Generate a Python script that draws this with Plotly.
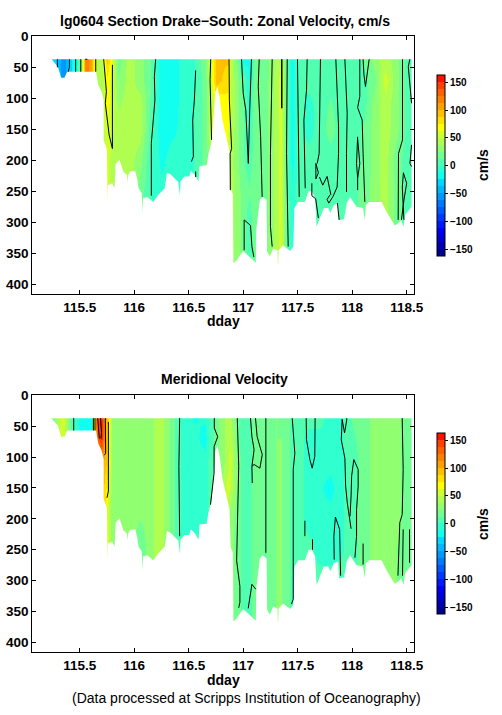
import plotly.graph_objects as go

# Station times (dday) and depth bins (m)
dday = [115.24,115.30,115.35,115.40,115.45,115.50,115.55,115.60,115.65,115.70,115.75,115.80,
        115.85,115.95,116.05,116.15,116.20,116.25,116.35,116.45,116.55,116.65,116.70,116.75,
        116.85,116.88,116.95,117.00,117.05,117.10,117.20,117.30,117.35,117.40,117.45,117.50,
        117.60,117.70,117.80,117.90,118.00,118.10,118.20,118.30,118.40,118.50,118.55]
depth = [37,70,110,150,200,250,300,345]

# Zonal velocity (cm/s), one list per depth bin
u_37  = [-22,-40,-62,-30,-18,10,115,110,40,44,92,60,18,44,30,14,-6,-20,-20,-8,-2,25,50,92,90,50,18,-18,-16,18,18,40,50,8,-20,6,6,6,6,6,6,14,30,44,30,6,6]
u_70  = [-22,-40,-62,-30,-18,10,115,110,40,38,70,56,25,44,30,14,-6,-20,-20,-8,-2,18,50,94,80,50,25,6,-12,18,18,44,56,6,-20,6,6,6,8,6,6,6,20,56,30,6,6]
u_110 = [-22,-40,-62,-30,-18,10,115,110,40,40,68,54,36,44,44,12,-6,-20,-18,-8,0,18,50,60,70,50,25,14,-6,18,18,44,56,8,-20,6,-6,6,14,6,6,6,30,44,30,6,6]
u_150 = [-22,-40,-62,-30,-18,10,115,110,40,40,60,52,44,44,44,8,-8,-20,-16,-8,0,18,50,60,70,50,25,14,-4,18,18,44,56,8,-20,6,-6,6,18,6,6,14,30,44,30,6,6]
u_200 = [-22,-40,-62,-30,-18,10,115,110,40,40,56,44,44,44,30,2,-6,-16,-6,-6,0,18,30,40,50,44,25,14,6,18,18,44,56,6,-18,6,6,6,6,6,6,14,30,44,18,6,6]
u_250 = [-22,-40,-62,-30,-18,10,115,110,40,40,56,44,44,44,18,2,-6,-8,-6,-6,0,18,30,40,50,44,30,18,14,18,18,44,56,6,-10,6,6,6,6,6,6,18,30,44,18,6,6]
u_300 = [-22,-40,-62,-30,-18,10,115,110,40,40,56,44,44,44,18,2,-6,-8,-6,-6,0,18,30,40,50,44,30,18,6,18,18,44,56,6,-6,6,6,6,6,6,6,18,30,44,18,6,6]
u_345 = [-22,-40,-62,-30,-18,10,115,110,40,40,56,44,44,44,18,2,-6,-8,-6,-6,0,18,30,40,50,44,30,18,6,18,18,44,56,6,-6,6,6,6,6,6,6,18,30,44,18,6,6]

# Meridional velocity (cm/s), one list per depth bin
v_37  = [18,44,60,18,0,-18,-18,-18,130,155,90,30,25,30,30,30,44,44,18,-6,-14,-10,6,18,44,40,14,6,6,18,14,25,18,18,6,6,6,6,-6,-2,14,18,30,30,30,18,18]
v_70  = [18,44,60,18,0,-18,-18,-18,120,150,80,30,30,30,30,30,44,44,18,-6,-8,-18,6,18,44,50,14,6,6,18,14,25,25,18,6,6,-6,-6,-6,-2,10,18,30,30,30,18,18]
v_110 = [18,44,60,18,0,-18,-18,-18,50,110,85,30,30,30,30,30,44,44,18,-6,-6,-6,6,18,44,56,18,6,6,18,12,25,25,18,6,6,-6,-6,-8,-2,6,18,30,30,30,18,18]
v_150 = [18,44,60,18,0,-18,-18,-18,50,100,70,30,30,30,25,30,44,44,18,-6,-6,-6,6,18,56,50,18,6,6,18,12,25,25,18,6,6,-6,-10,-18,-2,6,18,30,30,30,18,18]
v_200 = [18,44,60,18,0,-18,-18,-18,50,100,56,30,30,30,25,30,44,44,18,-6,-6,-6,6,18,44,30,18,6,6,18,12,25,25,18,6,6,-6,-6,-6,-2,6,18,30,30,30,18,18]
v_250 = [18,44,60,18,0,-18,-18,-18,50,100,56,30,30,30,18,30,44,44,18,-6,-6,-6,6,18,44,30,18,6,6,18,12,25,25,18,6,6,6,-6,-6,-2,6,18,30,30,25,18,18]
v_300 = [18,44,60,18,0,-18,-18,-18,50,100,56,30,30,30,18,30,44,44,18,-6,-6,-6,6,18,44,30,18,6,6,18,12,25,25,18,6,6,6,6,6,6,6,18,30,30,25,18,18]
v_345 = [18,44,60,18,0,-18,-18,-18,50,100,56,30,30,30,18,30,44,44,18,-6,-6,-6,6,18,44,30,18,6,6,18,12,25,25,18,6,6,6,6,6,6,6,18,30,30,25,18,18]

# Deepest good velocity along the section (dday, depth m)
bottom_day = [115.24,115.26,115.30,115.33,115.36,115.385,115.65,115.67,115.70,115.72,115.72,115.75,115.752,115.755,115.758,115.80,115.82,115.83,115.865,115.90,115.935,115.94,115.945,115.96,116.01,116.03,116.04,116.07,116.075,116.08,116.12,116.175,116.22,116.28,116.30,116.33,116.375,116.405,116.42,116.425,116.46,116.505,116.52,116.56,116.59,116.60,116.665,116.68,116.71,116.735,116.745,116.765,116.785,116.81,116.845,116.875,116.885,116.905,116.91,116.94,117.0,117.06,117.116,117.12,117.153,117.18,117.215,117.22,117.245,117.275,117.315,117.32,117.325,117.367,117.43,117.46,117.47,117.505,117.566,117.6,117.63,117.66,117.673,117.70,117.74,117.78,117.80,117.83,117.87,117.88,117.925,117.95,117.98,118.04,118.10,118.116,118.125,118.155,118.27,118.315,118.39,118.42,118.45,118.47,118.485,118.545]
bottom_dep = [37,41,49,67,67,57,57,78,89,103,167,183,267,267,240,237,245,206,199,218,224,236,224,218,217,232,245,253,285,261,259,267,256,245,220,222,229,235,257,234,226,226,217,224,234,209,208,191,170,100,90,81,100,135,165,185,245,255,366,361,346,356,365,312,264,259,264,347,355,342,345,376,345,337,346,339,277,267,267,250,250,261,307,295,277,277,285,272,269,296,295,269,259,275,277,296,272,267,267,283,305,302,296,307,288,275]

# Zero/50 cm/s isotachs read as (dday, depth) polylines: zonal
u_isolines = [
 [(115.295,37),(115.295,50)],
 [(115.405,37),(115.405,50),(115.395,57)],
 [(115.463,37),(115.463,57)],
 [(115.51,37),(115.51,57)],
 [(115.55,37),(115.57,37)],
 [(115.647,37),(115.647,57)],
 [(115.72,37),(115.735,65),(115.745,89),(115.735,108),(115.755,135),(115.77,159),(115.8,181)],
 [(115.80,46),(115.80,181)],
 [(116.197,37),(116.185,65),(116.19,103),(116.17,156),(116.157,173),(116.157,257)],
 [(116.564,55),(116.552,103),(116.537,135),(116.543,194),(116.525,202)],
 [(116.564,218),(116.564,227)],
 [(116.702,37),(116.696,70),(116.71,167)],
 [(116.87,37),(116.873,103),(116.894,181),(116.88,189),(116.882,248)],
 [(116.985,37),(117.0,92),(117.024,119),(117.036,162),(117.047,205),(117.06,119),(117.076,37)],
 [(117.009,345),(117.009,296),(117.067,305),(117.08,339),(117.098,356)],
 [(117.147,37),(117.138,81),(117.16,162),(117.174,259)],
 [(117.266,37),(117.25,189),(117.25,307),(117.266,339)],
 [(117.352,37),(117.352,116)],
 [(117.356,37),(117.356,116)],
 [(117.404,37),(117.398,189),(117.413,339)],
 [(117.498,37),(117.505,162),(117.514,259)],
 [(117.587,37),(117.581,87),(117.557,135),(117.569,245)],
 [(117.709,37),(117.697,135),(117.697,189),(117.679,205)],
 [(117.667,205),(117.69,220),(117.667,230),(117.667,205)],
 [(117.63,237),(117.63,257),(117.665,262),(117.69,293)],
 [(117.70,227),(117.73,240),(117.77,226),(117.805,256)],
 [(117.85,37),(117.875,146),(117.875,189),(117.862,243),(117.825,258),(117.785,269),(117.77,263),(117.795,256)],
 [(117.933,37),(117.954,124),(117.948,189),(117.948,251)],
 [(117.865,269),(117.88,296)],
 [(118.10,37),(118.108,62),(118.122,81),(118.156,37)],
 [(118.07,37),(118.07,97),(118.05,115),(118.092,135),(118.1,189),(118.116,267)],
 [(118.05,162),(118.04,205),(118.05,229),(118.05,248)],
 [(118.05,165),(118.07,205),(118.05,229)],
 [(118.462,37),(118.462,167),(118.425,189),(118.422,296)],
 [(118.529,37),(118.515,49),(118.545,108)],
 [(118.545,175),(118.53,205),(118.545,210)],
 [(118.47,220),(118.5,237),(118.475,264),(118.458,286),(118.452,296)],
 [(118.47,220),(118.46,243),(118.47,280),(118.475,296)],
]

# Same for the meridional section
v_isolines = [
 [(115.445,37),(115.445,57)],
 [(115.625,37),(115.625,57)],
 [(115.64,37),(115.64,57)],
 [(115.665,37),(115.68,70)],
 [(115.69,37),(115.70,60),(115.695,70)],
 [(115.735,37),(115.738,94),(115.725,97)],
 [(115.763,43),(115.763,155),(115.75,166)],
 [(116.417,37),(116.41,115),(116.417,228)],
 [(116.735,37),(116.735,53),(116.766,67),(116.733,83),(116.733,126),(116.70,177)],
 [(116.946,37),(116.959,115),(116.94,268),(116.97,309),(116.97,335),(116.959,344)],
 [(117.067,37),(117.08,67),(117.10,88),(117.08,115),(117.083,142)],
 [(117.113,37),(117.128,67),(117.175,96),(117.153,118),(117.10,112),(117.08,115)],
 [(117.208,37),(117.208,255)],
 [(117.046,345),(117.08,306),(117.116,314)],
 [(117.45,37),(117.474,94),(117.459,120),(117.459,330),(117.443,338)],
 [(117.578,37),(117.581,72),(117.612,104),(117.633,118),(117.657,99),(117.66,37)],
 [(117.908,39),(117.90,72),(117.933,102),(117.94,147),(117.955,174),(117.99,216)],
 [(117.908,39),(117.93,61),(117.95,40),(117.95,37)],
 [(118.015,104),(118.055,120),(118.055,147),(118.04,185),(118.04,228),(118.025,263)],
 [(118.015,104),(117.995,131),(117.99,163),(117.98,196)],
 [(118.459,37),(118.468,120),(118.459,193),(118.437,206),(118.42,292)],
 [(118.468,217),(118.462,292)],
 [(118.526,217),(118.526,271)],
 [(117.566,203),(117.566,228)],
 [(117.636,233),(117.636,250)],
 [(117.846,197),(117.885,217),(117.894,292)],
 [(117.846,197),(117.832,228),(117.835,266)],
 [(118.10,240),(118.10,274)],
]

# Colour bar bands, bottom to top, each 12.5 cm/s wide
band_colors = ["#000090","#0000B0","#0000D0","#0000F0","#0018FF","#0038FF","#0058FF","#0078FF",
               "#0098FF","#00B8FF","#00D8FF","#10FFF0","#30FFD0","#50FFB0","#70FF90","#90FF70",
               "#B0FF50","#D0FF2F","#FFFF00","#FFE000","#FFC000","#FFA000","#FF8000","#FF6000",
               "#FF4000","#FF1000"]
tick_vals = [-150,-100,-50,0,50,100,150]
zmin, zmax = -162.5, 162.5
xlim = [115.065, 118.57]
ylim = [416, 0]

colorscale = []
for i, c in enumerate(band_colors):
    colorscale += [[i/len(band_colors), c], [(i+1)/len(band_colors), c]]

W, H = 502, 715
PX = [32.3, 414.3]
P1 = [36.3, 294.3]
P2 = [395.3, 652.3]
fs = "Liberation Sans"

def flat(lines):
    xs, ys = [], []
    for ln in lines:
        xs += [p[0] for p in ln] + [None]
        ys += [p[1] for p in ln] + [None]
    return xs, ys

mask_x = ([xlim[0], xlim[1], xlim[1], xlim[0], xlim[0], None, xlim[0]] + bottom_day +
          [bottom_day[-1], xlim[1], xlim[1], xlim[0], xlim[0]])
mask_y = ([ylim[1], ylim[1], 37, 37, ylim[1], None, 37] + bottom_dep +
          [37, 37, ylim[0], ylim[0], 37])

fig = go.Figure()
panels = [([u_37,u_70,u_110,u_150,u_200,u_250,u_300,u_345], u_isolines, "x", "y", (75.3+256.3)/2),
          ([v_37,v_70,v_110,v_150,v_200,v_250,v_300,v_345], v_isolines, "x2", "y2", (433.3+614.3)/2)]
for z, iso, xa, ya, cy in panels:
    fig.add_trace(go.Heatmap(x=dday, y=depth, z=z, xaxis=xa, yaxis=ya, zsmooth="best",
                             colorscale=colorscale, zmin=zmin, zmax=zmax, hoverinfo="skip",
                             colorbar=dict(x=437.3/W, xanchor="left", y=1-cy/H, yanchor="middle",
                                           lenmode="pixels", len=181, thickness=8.4,
                                           thicknessmode="pixels", xpad=0, ypad=0,
                                           outlinewidth=1, outlinecolor="black",
                                           tickmode="array", tickvals=tick_vals, ticks="outside",
                                           ticklen=3, tickwidth=1, tickcolor="black",
                                           tickfont=dict(family=fs, size=10, color="black", weight="bold"))))
    fig.add_trace(go.Scatter(x=mask_x, y=mask_y, xaxis=xa, yaxis=ya, mode="lines", fill="toself",
                             fillcolor="white", line=dict(width=0), hoverinfo="skip", showlegend=False))
    ix, iy = flat(iso)
    fig.add_trace(go.Scatter(x=ix, y=iy, xaxis=xa, yaxis=ya, mode="lines",
                             line=dict(color="black", width=1), hoverinfo="skip", showlegend=False))

tickfont = dict(family=fs, size=13.5, color="black", weight="bold")
ax_x = dict(range=xlim, tick0=115.5, dtick=0.5, ticks="inside", ticklen=4, tickcolor="black",
            showline=True, linecolor="black", linewidth=1, mirror="ticks", showgrid=False,
            zeroline=False, tickfont=tickfont, domain=[PX[0]/W, PX[1]/W], automargin=False)
ax_y = dict(range=ylim, tick0=0, dtick=50, ticks="inside", ticklen=4, tickcolor="black",
            showline=True, linecolor="black", linewidth=1, mirror="ticks", showgrid=False,
            zeroline=False, tickfont=tickfont, automargin=False)
fig.update_layout(
    width=W, height=H, autosize=False, margin=dict(l=0, r=0, t=0, b=0),
    paper_bgcolor="white", plot_bgcolor="white", showlegend=False,
    xaxis=dict(ax_x, anchor="y"),
    yaxis=dict(ax_y, anchor="x", domain=[1-P1[1]/H, 1-P1[0]/H]),
    xaxis2=dict(ax_x, anchor="y2"),
    yaxis2=dict(ax_y, anchor="x2", domain=[1-P2[1]/H, 1-P2[0]/H]),
)

def label(text, px, py, size, bold=True, angle=0):
    fig.add_annotation(text=text, x=px/W, y=1-py/H, xref="paper", yref="paper", showarrow=False,
                       textangle=angle, xanchor="center", yanchor="middle",
                       font=dict(family=fs, size=size, color="black",
                                 weight="bold" if bold else "normal"))

label("lg0604 Section Drake\u2212South: Zonal Velocity, cm/s", 225, 21, 14)
label("dday", 223, 321, 14)
label("Meridional Velocity", 224, 379, 14)
label("dday", 223, 680, 14)
label("(Data processed at Scripps Institution of Oceanography)", 246, 698, 14, bold=False)
label("cm/s", 483, 165, 14, angle=-90)
label("cm/s", 483, 524, 14, angle=-90)

fig.write_html("out.html", post_script="document.body.style.margin='0';",
               config={"displayModeBar": False})
